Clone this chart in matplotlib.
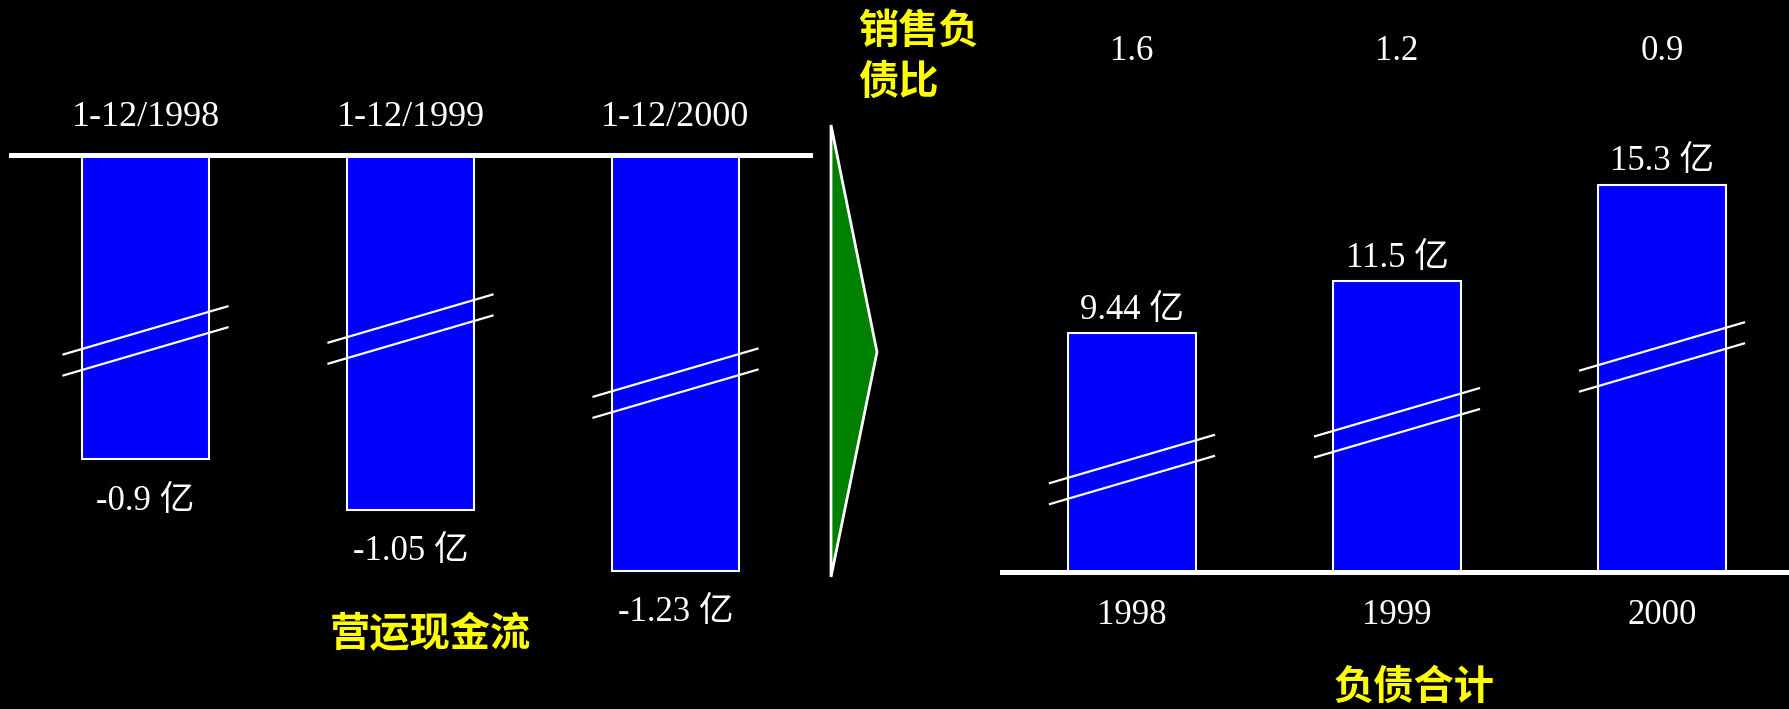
import matplotlib
matplotlib.use("Agg")
import matplotlib.pyplot as plt
from matplotlib.patches import Polygon
from matplotlib.lines import Line2D

# data
cash_periods = ["1-12/1998", "1-12/1999", "1-12/2000"]
cash_flow = [-0.9, -1.05, -1.23]          # 营运现金流, 亿
debt_years = ["1998", "1999", "2000"]
debt_total = [9.44, 11.5, 15.3]           # 负债合计, 亿
sales_debt_ratio = ["1.6", "1.2", "0.9"]  # 销售负债比

W, H = 1789, 709
SERIF = ["Liberation Serif", "Noto Sans CJK SC"]
CJK = ["Noto Sans CJK SC", "DejaVu Sans"]
YELLOW = "#ffff00"
BLUE = "#0000ff"

fig = plt.figure(figsize=(W / 100, H / 100), dpi=100, facecolor="black")


def fx(px):
    return px / W


def fy(py):
    # py measured from the top of the picture
    return 1 - py / H


def break_mark(ax, x, y, gap=21, half=82, rise=24):
    # two parallel slanted lines centred on a bar (display pixels)
    cx, cy = ax.transData.transform((x, y))
    for off in (gap / 2, -gap / 2):
        fig.add_artist(Line2D([cx - half, cx + half],
                              [cy + off - rise, cy + off + rise],
                              transform=None, color="white", lw=1.6,
                              zorder=5))


# ---------- left panel: operating cash flow ----------
axl = fig.add_axes([0, 0, fx(820), (H - 155) / H])
axl.set_facecolor("none")
pxu_l = 338.0
axl.set_ylim(-(H - 155) / pxu_l, 0)
axl.set_xlim(-145.5 / 265, (820 - 145.5) / 265)
axl.axis("off")
xl = range(len(cash_flow))
axl.bar(xl, cash_flow, width=0.48, color=BLUE, edgecolor="white",
        linewidth=1.5, zorder=2)
axl.axhline(0, xmin=11 / 820, xmax=810 / 820, color="white", lw=3.6,
            zorder=3, clip_on=False)
for i, (lab, v) in enumerate(zip(cash_periods, cash_flow)):
    axl.annotate(lab, (i, 0), xytext=(0, 38), textcoords="offset pixels",
                 ha="center", va="center", color="white", fontsize=26,
                 family=SERIF, annotation_clip=False)
    axl.annotate(f"{v} 亿", (i, v), xytext=(0, -42),
                 textcoords="offset pixels", ha="center", va="center",
                 color="white", fontsize=25, family=SERIF)

# ---------- right panel: total liabilities ----------
axr = fig.add_axes([fx(1000), 0, fx(789), 1])
axr.set_facecolor("none")
pxu_r = 25.3
axr.set_ylim(-137 / pxu_r, (H - 137) / pxu_r)
axr.set_xlim(-(1132 - 1000) / 265, (W - 1132) / 265)
axr.axis("off")
xr = range(len(debt_total))
axr.bar(xr, debt_total, width=0.48, color=BLUE, edgecolor="white",
        linewidth=1.5, zorder=2)
axr.axhline(0, xmin=2 / 789, xmax=1, color="white", lw=3.6, zorder=3)
for i, (yr, v, r) in enumerate(zip(debt_years, debt_total, sales_debt_ratio)):
    axr.annotate(f"{v} 亿", (i, v), xytext=(0, 23),
                 textcoords="offset pixels", ha="center", va="center",
                 color="white", fontsize=25, family=SERIF)
    axr.annotate(yr, (i, 0), xytext=(0, -43), textcoords="offset pixels",
                 ha="center", va="center", color="white", fontsize=25,
                 family=SERIF)
    axr.text(i, 1 - 51 / H, r, transform=axr.get_xaxis_transform(),
             ha="center", va="center", color="white", fontsize=25,
             family=SERIF)

# break marks on every bar
fig.canvas.draw()
for i, yb in enumerate([-0.55, -0.515, -0.675]):
    break_mark(axl, i, yb)
for i, yb in enumerate([4.05, 5.9, 8.5]):
    break_mark(axr, i, yb)

# green arrow between panels
fig.add_artist(Polygon([(fx(831), fy(125)), (fx(877), fy(352)),
                        (fx(831), fy(577))], closed=True,
                       transform=fig.transFigure, facecolor="#008000",
                       edgecolor="white", lw=2))

# yellow captions
fig.text(fx(858), fy(57), "销售负\n债比", ha="left", va="center",
         color=YELLOW, fontsize=29, fontweight="bold", family=CJK,
         linespacing=1.3)
fig.text(fx(430), fy(635), "营运现金流", ha="center", va="center",
         color=YELLOW, fontsize=29, fontweight="bold", family=CJK)
fig.text(fx(1414), fy(687), "负债合计", ha="center", va="center",
         color=YELLOW, fontsize=29, fontweight="bold", family=CJK)

fig.savefig("out.png", dpi=100, facecolor="black")
